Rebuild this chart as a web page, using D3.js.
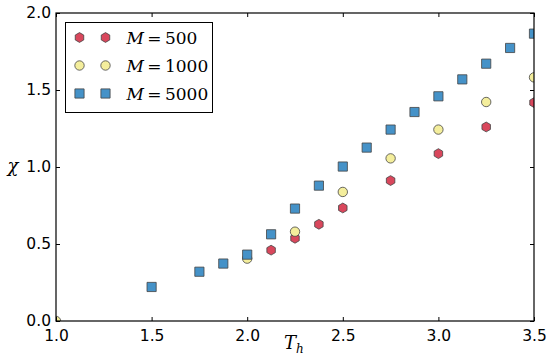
<!DOCTYPE html>
<html>
<head>
<meta charset="utf-8">
<script src="https://cdn.jsdelivr.net/npm/d3@7"></script>
<style>
  body { margin: 0; background: #fff; }
  svg { display: block; }
</style>
</head>
<body>
<svg id="canvas" width="550" height="359"></svg>
<script>
// data
const tM500 = [2.125, 2.25, 2.375, 2.5, 2.75, 3.0, 3.25, 3.5]
const chiM500 = [0.46, 0.537, 0.628, 0.734, 0.912, 1.087, 1.26, 1.418]

const tM1000 = [1.0, 2.0, 2.25, 2.5, 2.75, 3.0, 3.25, 3.5]
const chiM1000 = [0.0, 0.405, 0.58, 0.838, 1.056, 1.243, 1.422, 1.582]

const tM5000 = [1.5, 1.75, 1.875, 2.0, 2.125, 2.25, 2.375, 2.5, 2.625, 2.75, 2.875, 3.0, 3.125, 3.25, 3.375, 3.5]
const chiM5000 = [0.221, 0.32, 0.373, 0.431, 0.563, 0.73, 0.879, 1.003, 1.126, 1.243, 1.357, 1.459, 1.569, 1.671, 1.773, 1.866]

const xTicks = [1.0, 1.5, 2.0, 2.5, 3.0, 3.5]
const yTicks = [0.0, 0.5, 1.0, 1.5, 2.0]
const seriesLabels = ['500', '1000', '5000']

const svg = d3.select('#canvas')
const margin = { left: 56, right: 16, top: 13, bottom: 38 }
const W = 550, H = 359
const x = d3.scaleLinear().domain([1.0, 3.5]).range([margin.left, W - margin.right])
const y = d3.scaleLinear().domain([0, 2.0]).range([H - margin.bottom, margin.top])

const series = [
    { t: tM500, v: chiM500, shape: 'hex', fill: '#d9475c' },
    { t: tM1000, v: chiM1000, shape: 'circle', fill: '#f4ee9c' },
    { t: tM5000, v: chiM5000, shape: 'square', fill: '#4592c8' }
]

svg.append('clipPath').attr('id', 'clip')
    .append('rect')
    .attr('x', x(1.0)).attr('y', y(2.0))
    .attr('width', x(3.5) - x(1.0)).attr('height', y(0) - y(2.0))

// marker path generator, centred at 0,0
function marker(shape) {
    if (shape === 'square') return 'M-4.6,-4.6H4.6V4.6H-4.6Z'
    if (shape === 'circle') return d3.symbol(d3.symbolCircle, Math.PI * 4.7 * 4.7)()
    // hexagon, pointy top
    const r = 4.9
    let p = ''
    for (let i = 0; i < 6; i++) {
        const a = Math.PI / 3 * i - Math.PI / 2
        p += (i ? 'L' : 'M') + (r * Math.cos(a)).toFixed(2) + ',' + (r * Math.sin(a)).toFixed(2)
    }
    return p + 'Z'
}

const plot = svg.append('g').attr('clip-path', 'url(#clip)')
series.forEach(s => {
    plot.append('g').selectAll('path')
        .data(s.t.map((t, i) => [t, s.v[i]]))
        .enter()
        .append('path')
        .attr('d', marker(s.shape))
        .attr('transform', d => `translate(${x(d[0])},${y(d[1])})`)
        .attr('fill', s.fill)
        .attr('stroke', '#444')
        .attr('stroke-width', 0.8)
})

// axes, ticks pointing inward on all four sides
const fmt = d3.format('.1f')
const tickLen = 4
const axisFont = 'DejaVu Sans, sans-serif'

const axBottom = svg.append('g').attr('transform', `translate(0,${y(0)})`)
    .call(d3.axisBottom(x).tickValues(xTicks).tickFormat(fmt).tickSizeInner(-tickLen).tickSizeOuter(0).tickPadding(9))
const axLeft = svg.append('g').attr('transform', `translate(${x(1.0)},0)`)
    .call(d3.axisLeft(y).tickValues(yTicks).tickFormat(fmt).tickSizeInner(-tickLen).tickSizeOuter(0).tickPadding(5))
const axTop = svg.append('g').attr('transform', `translate(0,${y(2.0)})`)
    .call(d3.axisTop(x).tickValues(xTicks).tickFormat('').tickSizeInner(-tickLen).tickSizeOuter(0))
const axRight = svg.append('g').attr('transform', `translate(${x(3.5)},0)`)
    .call(d3.axisRight(y).tickValues(yTicks).tickFormat('').tickSizeInner(-tickLen).tickSizeOuter(0))

;[axBottom, axLeft, axTop, axRight].forEach(g => {
    g.select('.domain').remove()
    g.selectAll('line').attr('stroke', '#000').attr('stroke-width', 1)
    g.selectAll('text').attr('font-family', axisFont).attr('font-size', 15.5).attr('fill', '#000')
})

svg.append('rect')
    .attr('x', x(1.0)).attr('y', y(2.0))
    .attr('width', x(3.5) - x(1.0)).attr('height', y(0) - y(2.0))
    .attr('fill', 'none').attr('stroke', '#000').attr('stroke-width', 1.2)

// axis labels
svg.append('text')
    .attr('x', 13).attr('y', y(1.0) + 5)
    .attr('text-anchor', 'middle')
    .attr('font-family', 'DejaVu Serif, serif').attr('font-style', 'italic')
    .attr('font-size', 18)
    .text('χ')

const xl = svg.append('text')
    .attr('x', 284).attr('y', 349)
    .attr('font-family', 'DejaVu Serif, serif').attr('font-style', 'italic')
    .attr('font-size', 18)
xl.append('tspan').text('T')
xl.append('tspan').attr('font-size', 12).attr('dy', 4).text('h')

// legend
const lg = svg.append('g').attr('transform', 'translate(65.5,22.5)')
lg.append('rect').attr('width', 147).attr('height', 90)
    .attr('fill', '#fff').attr('stroke', '#000').attr('stroke-width', 1)
series.forEach((s, i) => {
    const cy = 15 + i * 28
    ;[14, 40].forEach(cx => {
        lg.append('path')
            .attr('d', marker(s.shape))
            .attr('transform', `translate(${cx},${cy})`)
            .attr('fill', s.fill)
            .attr('stroke', '#444')
            .attr('stroke-width', 0.8)
    })
    const t = lg.append('text')
        .attr('x', 61).attr('y', cy + 6)
        .attr('font-family', 'DejaVu Serif, serif')
        .attr('font-size', 17)
    t.append('tspan').attr('font-style', 'italic').text('M')
    t.append('tspan').text('\u2009=\u2009' + seriesLabels[i])
})
</script>
</body>
</html>
